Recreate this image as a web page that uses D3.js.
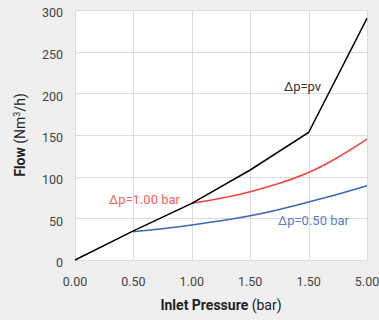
<!DOCTYPE html>
<html lang="en">
<head>
  <meta charset="UTF-8">
  <title>Flow vs Inlet Pressure</title>
  <script src="https://d3js.org/d3.v7.min.js"></script>
  <style>
    body {
      margin: 0;
      background: #efefef;
      font-family: "Roboto", "DejaVu Sans", sans-serif;
    }
    .grid line {
      stroke: #dcdcdc;
      stroke-width: 1;
    }
    .tick-label {
      fill: #444;
      font-size: 12.5px;
    }
    .axis-title {
      fill: #222;
      font-size: 14px;
    }
    .curve {
      fill: none;
      stroke-width: 1.5;
    }
  </style>
</head>
<body>
  <script>
    // x positions are category slots; labels are what the chart prints under them
    const xLabels = ["0.00", "0.50", "1.00", "1.50", "1.50", "5.00"];
    const yTicks = [0, 50, 100, 150, 200, 250, 300];

    // Δp = pv (piecewise straight)
    const pvX = [0, 1, 2, 3, 4, 5];
    const pvY = [0, 35, 68, 108, 153, 290];

    // Δp = 1.00 bar
    const bar100X = [2, 2.5, 3, 3.5, 4, 4.5, 5];
    const bar100Y = [68, 74, 82, 92, 105, 123, 145];

    // Δp = 0.50 bar
    const bar050X = [1, 1.5, 2, 2.5, 3, 3.5, 4, 4.5, 5];
    const bar050Y = [34, 37.5, 42, 47, 53, 60.5, 69.5, 79, 89];

    const W = 379, H = 320;
    const plot = {left: 75, right: 367, top: 10, bottom: 260};

    const svg = d3.select("body").append("svg")
      .attr("width", W)
      .attr("height", H);

    const x = d3.scaleLinear()
      .domain([0, xLabels.length - 1])
      .range([plot.left, plot.right]);
    const y = d3.scaleLinear()
      .domain([0, 300])
      .range([plot.bottom, plot.top]);

    svg.append("rect")
      .attr("x", plot.left)
      .attr("y", plot.top)
      .attr("width", plot.right - plot.left)
      .attr("height", plot.bottom - plot.top)
      .attr("fill", "#fff");

    const grid = svg.append("g").attr("class", "grid");
    grid.selectAll(".gx")
      .data(d3.range(xLabels.length))
      .enter().append("line")
      .attr("x1", d => Math.round(x(d)) + 0.5)
      .attr("x2", d => Math.round(x(d)) + 0.5)
      .attr("y1", plot.top)
      .attr("y2", plot.bottom);
    grid.selectAll(".gy")
      .data(yTicks)
      .enter().append("line")
      .attr("x1", plot.left)
      .attr("x2", plot.right)
      .attr("y1", d => Math.round(y(d)) + 0.5)
      .attr("y2", d => Math.round(y(d)) + 0.5);

    svg.selectAll(".ylab")
      .data(yTicks)
      .enter().append("text")
      .attr("class", "tick-label")
      .attr("x", 63)
      .attr("y", d => y(d) + 3)
      .attr("dy", "0.35em")
      .attr("text-anchor", "end")
      .text(d => d);

    svg.selectAll(".xlab")
      .data(xLabels)
      .enter().append("text")
      .attr("class", "tick-label")
      .attr("x", (d, i) => x(i))
      .attr("y", 282)
      .attr("dy", "0.35em")
      .attr("text-anchor", "middle")
      .text(d => d);

    const xt = svg.append("text")
      .attr("class", "axis-title")
      .attr("x", (plot.left + plot.right) / 2)
      .attr("y", 310)
      .attr("text-anchor", "middle");
    xt.append("tspan").attr("font-weight", "bold").text("Inlet Pressure");
    xt.append("tspan").text(" (bar)");

    const yt = svg.append("text")
      .attr("class", "axis-title")
      .attr("transform", "translate(25," + ((plot.top + plot.bottom) / 2) + ") rotate(-90)")
      .attr("text-anchor", "middle");
    yt.append("tspan").attr("font-weight", "bold").text("Flow");
    yt.append("tspan").text(" (Nm");
    yt.append("tspan").attr("font-size", "9px").attr("dy", "-5").text("3");
    yt.append("tspan").attr("dy", "5").text("/h)");

    const smooth = d3.line()
      .x(d => x(d[0]))
      .y(d => y(d[1]))
      .curve(d3.curveNatural);
    const straight = d3.line()
      .x(d => x(d[0]))
      .y(d => y(d[1]));

    svg.append("path")
      .datum(d3.zip(bar050X, bar050Y))
      .attr("class", "curve")
      .attr("stroke", "#3b66b5")
      .attr("d", smooth);

    svg.append("path")
      .datum(d3.zip(bar100X, bar100Y))
      .attr("class", "curve")
      .attr("stroke", "#f0453d")
      .attr("d", smooth);

    svg.append("path")
      .datum(d3.zip(pvX, pvY))
      .attr("class", "curve")
      .attr("stroke", "#000")
      .attr("d", straight);

    svg.append("text")
      .attr("x", 284).attr("y", 86).attr("dy", "0.35em")
      .attr("fill", "#333").attr("font-size", "13px")
      .text("Δp=pv");
    svg.append("text")
      .attr("x", 109).attr("y", 199).attr("dy", "0.35em")
      .attr("fill", "#f06262").attr("font-size", "13px")
      .text("Δp=1.00 bar");
    svg.append("text")
      .attr("x", 278).attr("y", 220).attr("dy", "0.35em")
      .attr("fill", "#5a7ec4").attr("font-size", "13px")
      .text("Δp=0.50 bar");
  </script>
</body>
</html>
